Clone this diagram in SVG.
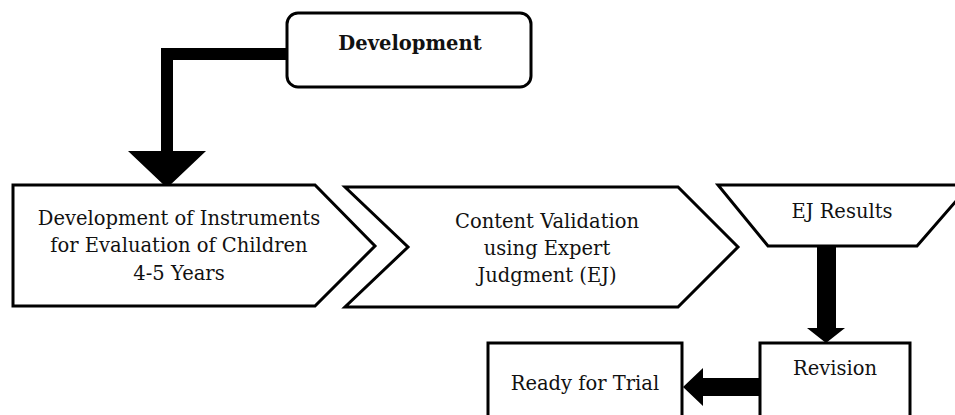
<svg xmlns="http://www.w3.org/2000/svg" width="955" height="415" viewBox="0 0 955 415">
<style>
.shape{fill:#fff;stroke:#000;stroke-width:3;stroke-linejoin:miter}
.t{font-family:"DejaVu Serif","Liberation Serif",serif;font-size:19.5px;fill:#111;text-anchor:middle}
.b{font-weight:bold}
.conn{fill:#000;stroke:none}
</style>
<rect width="955" height="415" fill="#fff"/>
<g id="connectors">
<polygon class="conn" points="287,48 161,48 161,151 128,151 167,188 206,151 173,151 173,60 287,60"/>
<polygon class="conn" points="817,246 817,328 807,328 826,343 845,328 836,328 836,246"/>
<polygon class="conn" points="760,378 703,378 703,368 683,387 703,406 703,396 760,396"/>
</g>
<g id="development">
<rect class="shape" x="287" y="13" width="244" height="74" rx="11"/>
<text class="t b" x="410" y="50">Development</text>
</g>
<g id="instruments">
<polygon class="shape" points="13,185 315,185 375,246 315,306 13,306"/>
<text class="t" x="179" y="225">Development of Instruments</text>
<text class="t" x="179" y="252">for Evaluation of Children</text>
<text class="t" x="179" y="280">4-5 Years</text>
</g>
<g id="validation">
<polygon class="shape" points="345,187 678,187 738,247 678,307 345,307 408,247"/>
<text class="t" x="547" y="228">Content Validation</text>
<text class="t" x="547" y="255">using Expert</text>
<text class="t" x="547" y="282">Judgment (EJ)</text>
</g>
<g id="ej-results">
<polygon class="shape" points="718,185 970,185 917,246 768,246"/>
<text class="t" x="842" y="218">EJ Results</text>
</g>
<g id="revision">
<rect class="shape" x="760" y="343" width="150" height="80"/>
<text class="t" x="835" y="375">Revision</text>
</g>
<g id="ready">
<rect class="shape" x="488" y="343" width="194" height="80"/>
<text class="t" x="585" y="390">Ready for Trial</text>
</g>
</svg>
